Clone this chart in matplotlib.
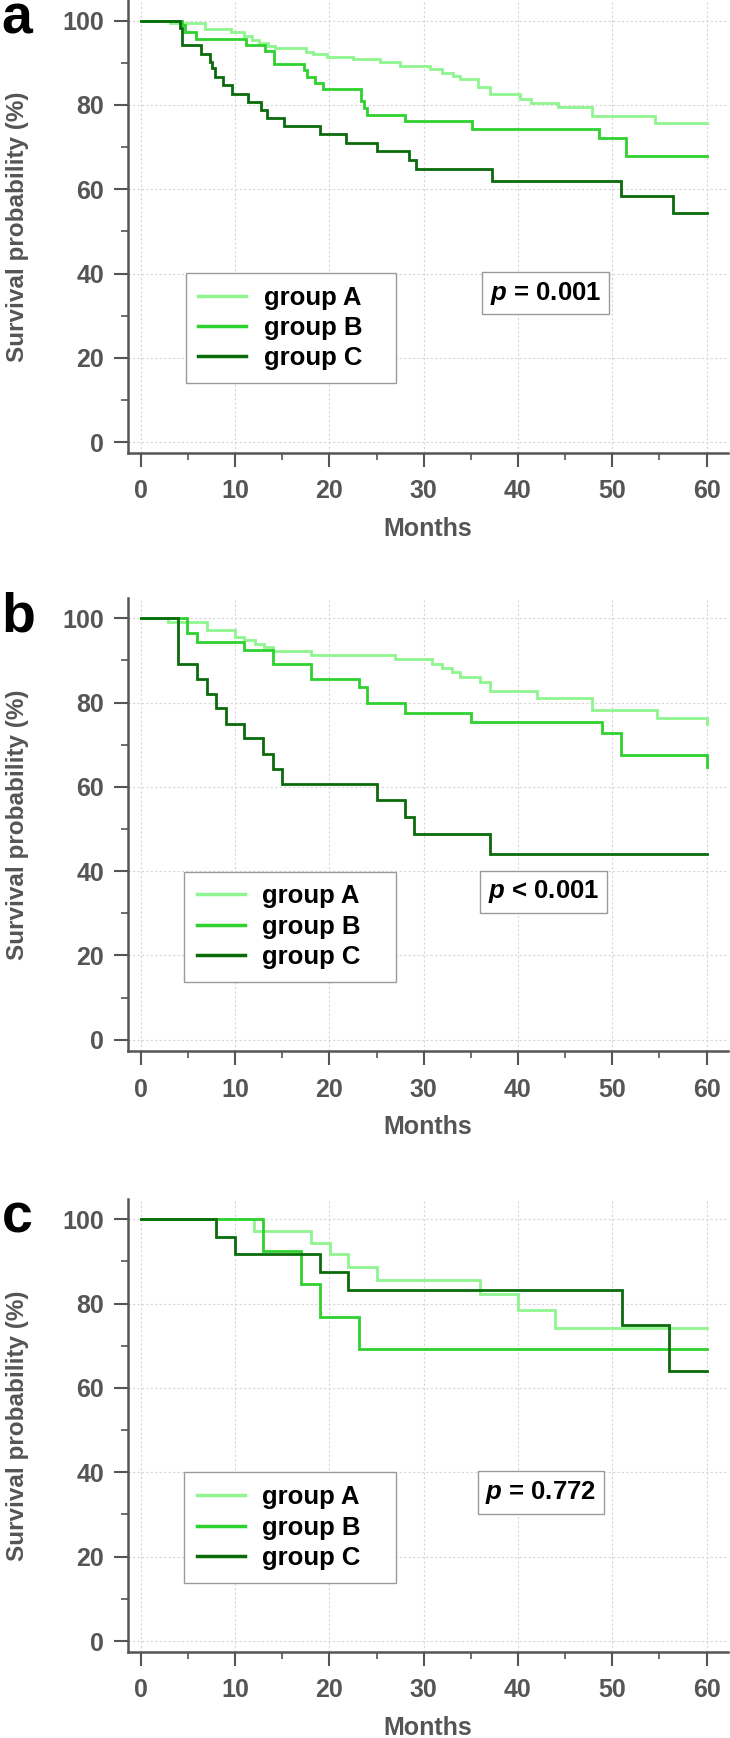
import matplotlib
matplotlib.use('Agg')
import matplotlib.pyplot as plt
from matplotlib.ticker import MultipleLocator

plt.rcParams['font.family'] = ['Liberation Sans', 'DejaVu Sans']
plt.rcParams['font.weight'] = 'bold'
plt.rcParams['mathtext.fontset'] = 'custom'
plt.rcParams['mathtext.it'] = 'Liberation Sans:italic:bold'
plt.rcParams['mathtext.rm'] = 'Liberation Sans:bold'

# ---------------- data ----------------
groups = ['group A', 'group B', 'group C']
colors = ['#8ff58f', '#2ed12e', '#0b6b0b']
x_ticks = [0, 10, 20, 30, 40, 50, 60]
y_ticks = [0, 20, 40, 60, 80, 100]

# panel a
a_t_A = [0, 3.1, 6.8, 9.6, 11.0, 11.8, 12.5, 13.5, 14.2, 17.5, 18.3, 19.7, 22.5, 25.4, 27.5,
         30.7, 31.9, 33.1, 33.8, 35.8, 37.0, 40.2, 41.4, 44.2, 47.8, 54.5, 60]
a_s_A = [100, 99.5, 98.0, 97.4, 96.4, 95.4, 94.6, 93.9, 93.4, 92.6, 92.0, 91.4, 90.8, 90.2, 89.3,
         88.5, 87.7, 86.9, 86.1, 84.3, 82.5, 81.5, 80.4, 79.5, 77.3, 75.8, 75.8]
a_t_B = [0, 4.35, 4.7, 5.9, 11.2, 13.2, 14.1, 17.3, 17.6, 18.5, 19.3, 23.4, 23.7, 24.0, 28.0,
         35.1, 48.6, 51.4, 60]
a_s_B = [100, 99.0, 97.4, 95.6, 94.2, 92.8, 89.8, 88.3, 86.7, 85.1, 83.9, 81.0, 79.2, 77.7, 76.1,
         74.2, 72.2, 68.0, 68.0]
a_t_C = [0, 4.2, 4.4, 6.4, 7.35, 7.6, 7.9, 8.7, 9.65, 11.4, 12.8, 13.4, 15.2, 19.0, 21.8, 25.0,
         28.4, 29.2, 37.2, 50.95, 56.4, 60]
a_s_C = [100, 98.2, 94.2, 92.2, 90.2, 88.7, 86.7, 84.7, 82.7, 80.7, 78.7, 76.9, 74.9, 73.0, 71.0,
         69.0, 67.0, 64.8, 61.9, 58.4, 54.4, 54.4]

# panel b
b_t_A = [0, 2.9, 7.0, 10.0, 11.0, 12.1, 13.1, 14.0, 18.1, 27.0, 30.9, 31.9, 33.0, 33.9, 36.0,
         37.0, 42.0, 47.9, 54.7, 60]
b_s_A = [100, 99.1, 97.3, 95.6, 94.8, 94.0, 93.2, 92.3, 91.4, 90.4, 89.2, 88.2, 87.3, 86.1, 84.9,
         82.7, 81.2, 78.2, 76.4, 75.0]
b_t_B = [0, 4.9, 6.0, 11.0, 14.0, 18.1, 23.1, 24.0, 28.0, 35.0, 48.9, 50.9, 60]
b_s_B = [100, 96.4, 94.4, 92.6, 89.1, 85.5, 83.7, 79.8, 77.6, 75.4, 72.8, 67.5, 64.7]
b_t_C = [0, 4.0, 6.0, 7.0, 8.0, 9.0, 11.0, 13.0, 14.0, 15.0, 25.0, 28.0, 29.0, 37.0, 60]
b_s_C = [100, 89.2, 85.7, 82.1, 78.6, 75.0, 71.5, 67.9, 64.3, 60.8, 57.0, 52.9, 48.9, 44.0, 44.0]

# panel c
c_t_A = [0, 12.0, 18.1, 20.1, 22.0, 25.0, 36.0, 40.0, 43.9, 60]
c_s_A = [100, 97.2, 94.4, 91.7, 88.7, 85.6, 82.2, 78.4, 74.3, 74.3]
c_t_B = [0, 13.0, 17.0, 19.0, 23.1, 60]
c_s_B = [100, 92.5, 84.6, 76.8, 69.3, 69.3]
c_t_C = [0, 8.0, 10.0, 19.0, 22.0, 51.0, 56.0, 60]
c_s_C = [100, 95.7, 91.7, 87.5, 83.3, 75.0, 64.1, 64.1]

panel_letters = ['a', 'b', 'c']
p_texts = [r'$p$ = 0.001', r'$p$ < 0.001', r'$p$ = 0.772']
x_label = 'Months'
y_label = 'Survival probability (%)'

# ---------------- layout ----------------
fig = plt.figure(figsize=(7.3, 17.38), dpi=100)
axes_rects = [
    [0.1749, 0.73936, 0.8219, 0.26064],
    [0.1749, 0.39511, 0.8219, 0.26064],
    [0.1749, 0.04948, 0.8219, 0.26047],
]
ylims = [(-2.54, 104.9), (-2.75, 104.75), (-2.6, 104.7)]
letter_y = [0.9810, 0.6365, 0.2906]
p_pos = [(42.9, 35.4), (42.7, 35.1), (42.4, 35.2)]
leg_box = [(4.76, 40.2), (4.57, 39.9), (4.6, 40.0)]

series = [
    [(a_t_A, a_s_A), (a_t_B, a_s_B), (a_t_C, a_s_C)],
    [(b_t_A, b_s_A), (b_t_B, b_s_B), (b_t_C, b_s_C)],
    [(c_t_A, c_s_A), (c_t_B, c_s_B), (c_t_C, c_s_C)],
]

gray = '#555555'
for i in range(3):
    ax = fig.add_axes(axes_rects[i])
    for (t, s), col, lab in zip(series[i], colors, groups):
        ax.step(t, s, where='post', color=col, lw=2.0, label=lab, solid_joinstyle='miter')
    ax.set_xlim(-1.38, 62.23)
    ax.set_ylim(*ylims[i])
    ax.set_xticks(x_ticks)
    ax.set_yticks(y_ticks)
    ax.xaxis.set_minor_locator(MultipleLocator(5))
    ax.yaxis.set_minor_locator(MultipleLocator(10))
    ax.grid(True, which='major', color='#d6d6d6', linestyle=(0, (2, 2)), linewidth=0.8)
    ax.set_axisbelow(True)
    for sp in ['top', 'right']:
        ax.spines[sp].set_visible(False)
    for sp in ['left', 'bottom']:
        ax.spines[sp].set_color(gray)
        ax.spines[sp].set_linewidth(1.8)
    ax.tick_params(which='major', direction='out', length=10, width=1.5, color=gray,
                   labelcolor=gray, labelsize=18)
    ax.tick_params(which='minor', direction='out', length=5, width=1.2, color=gray)
    ax.tick_params(axis='x', which='major', pad=9)
    ax.tick_params(axis='y', which='major', pad=7)
    ax.set_xlabel(x_label, fontsize=18, color=gray, fontweight='bold', va='center')
    ax.xaxis.set_label_coords(0.5, -0.168)
    ax.set_ylabel(y_label, fontsize=17.5, color=gray, fontweight='bold', va='center')
    ax.yaxis.set_label_coords(-0.183, 0.5)

    lx, ly = leg_box[i]
    leg = ax.legend(loc='upper left', bbox_to_anchor=(lx, ly - 30, 27.1 - lx, 30),
                    bbox_transform=ax.transData, mode='expand', fontsize=18.5,
                    frameon=True, fancybox=False, framealpha=1, edgecolor='#9a9a9a',
                    borderpad=0.5, labelspacing=0.25, handlelength=1.87,
                    handletextpad=0.68, borderaxespad=0)
    leg.get_frame().set_linewidth(1.0)
    for line in leg.get_lines():
        line.set_linewidth(2.5)

    px, py = p_pos[i]
    ax.text(px, py, p_texts[i], fontsize=18.5, fontweight='bold', ha='center', va='center',
            color='black',
            bbox=dict(boxstyle='square,pad=0.3', fc='white', ec='#9a9a9a', lw=1.0))

    fig.text(0.002, letter_y[i], panel_letters[i], fontsize=40, fontweight='bold',
             color='black', ha='left', va='baseline')

fig.savefig('out.png', dpi=100)
